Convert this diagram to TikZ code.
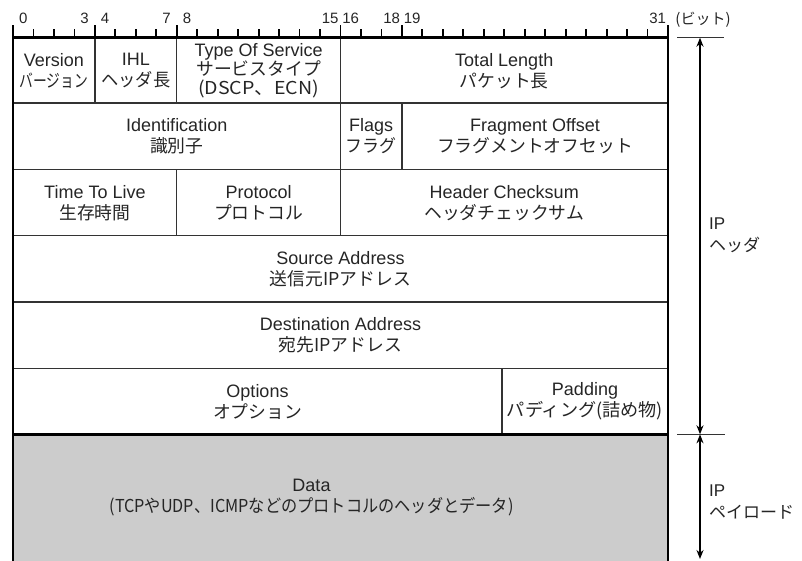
\documentclass[tikz,border=0pt]{standalone}
\usepackage{fontspec}
\usepackage{graphicx}
\setmainfont{Liberation Sans}
\newfontfamily\jpfont{Noto Sans CJK JP}
\usetikzlibrary{arrows.meta}
\definecolor{txt}{HTML}{252525}
\definecolor{linegray}{HTML}{333333}
\definecolor{datafill}{HTML}{CCCCCC}
\newcommand{\jtext}[1]{{\jpfont\fontsize{17.8}{21}\selectfont #1}}
\newcommand{\bitx}[1]{13+#1*20.469}
\tikzset{
  field/.style={text=txt, align=center, inner sep=0pt, font=\fontsize{18}{21}\selectfont},
  innerline/.style={draw=linegray, line width=1.3pt},
  outerline/.style={draw=black, line width=2.6pt},
  ticklbl/.style={text=txt, inner sep=0pt, font=\fontsize{15}{15}\selectfont},
  sidelbl/.style={text=txt, align=left, inner sep=0pt, anchor=west, font=\fontsize{17}{22}\selectfont},
  span/.style={draw=black, line width=2pt, {Stealth[length=9pt,width=7pt]}-{Stealth[length=9pt,width=7pt]}},
}
\begin{document}
\begin{tikzpicture}[x=1pt,y=-1pt]
\useasboundingbox (0,0) rectangle (802,560);
% data area
\fill[datafill] (13,434.3) rectangle (668,561);
% horizontal inner lines
\foreach \yy in {103,169.3,235.7,301.9,368.6}
  \draw[innerline] (13,\yy) -- (668,\yy);
% vertical inner lines
\draw[innerline] ({\bitx{4}},37.7) -- ({\bitx{4}},103);
\draw[innerline] ({\bitx{8}},37.7) -- ({\bitx{8}},103);
\draw[innerline] ({\bitx{16}},37.7) -- ({\bitx{16}},235.7);
\draw[innerline] ({\bitx{19}},103) -- ({\bitx{19}},169.3);
\draw[innerline] ({\bitx{8}},169.3) -- ({\bitx{8}},235.7);
\draw[innerline] (502,368.6) -- (502,434.3);
% outer lines
\draw[outerline] (13,562) -- (13,37.7) -- (668,37.7) -- (668,562);
\draw[outerline] (13,434.3) -- (668,434.3);
% ruler ticks as filled bars
\foreach \kk in {1,2,3,5,6,7,9,10,11,12,13,14,15,17,18,20,21,22,23,24,25,26,27,28,29,30,31}{
  \fill[black] ({13+\kk*20.469-0.9},29) rectangle ({13+\kk*20.469+0.9},38);
}
\foreach \kk in {0,4,8,16,19,32}{
  \fill[black] ({13+\kk*20.469-0.9},24.5) rectangle ({13+\kk*20.469+0.9},38);
}
\foreach \kk in {0,3,4,7,8,15,16,18,19,31}{
  \node[ticklbl] (b\kk) at ({13+\kk*20.469+10.2},18.5) {\kk};
}
\node[text=txt, inner sep=0pt] (bitunit) at (703,20) {{\jpfont\fontsize{15}{15}\selectfont (ビット)}};
\coordinate (hdrtop) at (700,37.7);
\coordinate (hdrbot) at (700,434.3);
\coordinate (paybot) at (700,559);
\draw[draw=linegray, line width=1.3pt] (677,37.7) -- (724,37.7);
\draw[draw=linegray, line width=1.3pt] (677,434.3) -- (725,434.3);
\draw[span] (hdrtop) -- (hdrbot);
\draw[span] (hdrbot) -- (paybot);
\node[sidelbl] (iphdr) at (709,235) {IP\\{\jpfont ヘッダ}};
\node[sidelbl] (ippay) at (709,502) {IP\\{\jpfont ペイロード}};
% fields
\node[field] (version) at ({(13+\bitx{4})/2},71) {Version\\\scalebox{0.775}[1]{\jtext{バージョン}}};
\node[field] (ihl) at ({(\bitx{4}+\bitx{8})/2},71) {IHL\\\scalebox{0.97}[1]{\jtext{ヘッダ長}}};
\node[field, font=\fontsize{18}{18.5}\selectfont] (tos) at ({(\bitx{8}+\bitx{16})/2},70.5) {Type Of Service\\{\jpfont\fontsize{17.8}{18.5}\selectfont サービスタイプ}\\\scalebox{1.1}[1]{\jpfont\fontsize{17.8}{18.5}\selectfont (DSCP、ECN)}};
\node[field] (totlen) at ({(\bitx{16}+668)/2},71) {Total Length\\\jtext{パケット長}};
\node[field] (ident) at ({(13+\bitx{16})/2},136.5) {Identification\\\jtext{識別子}};
\node[field] (flags) at ({(\bitx{16}+\bitx{19})/2},136.5) {Flags\\\scalebox{0.95}[1]{\jtext{フラグ}}};
\node[field] (fragoff) at ({(\bitx{19}+668)/2},136.5) {Fragment Offset\\\jtext{フラグメントオフセット}};
\node[field] (ttl) at ({(13+\bitx{8})/2},203) {Time To Live\\\jtext{生存時間}};
\node[field] (proto) at ({(\bitx{8}+\bitx{16})/2},203) {Protocol\\\jtext{プロトコル}};
\node[field] (chksum) at ({(\bitx{16}+668)/2},203) {Header Checksum\\\jtext{ヘッダチェックサム}};
\node[field] (src) at (340.5,269) {Source Address\\\jtext{送信元IPアドレス}};
\node[field] (dst) at (340.5,335.5) {Destination Address\\\jtext{宛先IPアドレス}};
\node[field] (opts) at (257.5,401.5) {Options\\\jtext{オプション}};
\node[field] (pad) at (585,401.5) {Padding\\\scalebox{1.02}[1]{\jtext{パディング(詰め物)}}};
\node[field] (data) at (311.5,497.5) {Data\\\scalebox{0.91}[1]{\jtext{(TCPやUDP、ICMPなどのプロトコルのヘッダとデータ)}}};
\end{tikzpicture}
\end{document}
